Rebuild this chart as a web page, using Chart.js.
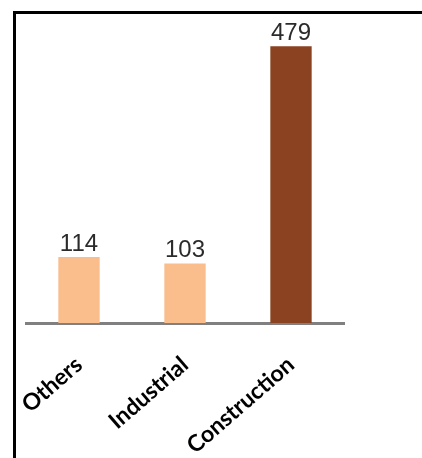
<!DOCTYPE html>
<html>
<head>
<meta charset="utf-8">
<script src="https://cdn.jsdelivr.net/npm/chart.js@4.4.0/dist/chart.umd.min.js"></script>
<style>
    html, body { margin: 0; padding: 0; background: #fff; }
    #wrap { position: relative; width: 422px; height: 458px; overflow: hidden; }
    #frame {
        position: absolute; left: 13px; top: 11px; width: 430px; height: 470px;
        border-left: 3px solid #000; border-top: 3px solid #000; pointer-events: none;
    }
    canvas { position: absolute; left: 0; top: 0; }
</style>
</head>
<body>
<div id="wrap">
    <canvas id="grafico" width="422" height="458"></canvas>
    <div id="frame"></div>
</div>
<script>
// Dados do gráfico
const categorias = ['Others', 'Industrial', 'Construction'];
const valores = [114, 103, 479];
const cores = ['#F9BE8C', '#F9BE8C', '#8B4220'];

// Plugin simples para escrever o valor em cima de cada barra
const rotulosValores = {
    id: 'rotulosValores',
    afterDatasetsDraw(chart) {
        const ctx = chart.ctx;
        const meta = chart.getDatasetMeta(0);
        ctx.save();
        ctx.font = '24px "Liberation Sans", Arial, sans-serif';
        ctx.fillStyle = '#2b2b2b';
        ctx.textAlign = 'center';
        ctx.textBaseline = 'alphabetic';
        meta.data.forEach((barra, i) => {
            ctx.fillText(String(valores[i]), barra.x, barra.y - 6);
        });
        ctx.restore();
    }
};

new Chart(document.getElementById('grafico'), {
    type: 'bar',
    data: {
        labels: categorias,
        datasets: [{
            data: valores,
            backgroundColor: cores,
            borderWidth: 0,
            barPercentage: 0.39,
            categoryPercentage: 1
        }]
    },
    options: {
        responsive: false,
        animation: false,
        devicePixelRatio: 1,
        layout: { padding: { left: 26, right: 78, top: 34, bottom: 0 } },
        plugins: { legend: { display: false }, tooltip: { enabled: false } },
        scales: {
            x: {
                grid: { display: false, drawTicks: false },
                border: { color: '#808080', width: 3 },
                // altura fixa do eixo e sem recuo extra dos rótulos
                afterFit(scale) {
                    scale.height = 135;
                    scale.paddingLeft = 0;
                    scale.paddingRight = 0;
                },
                ticks: {
                    minRotation: 41,
                    maxRotation: 41,
                    padding: 28,
                    color: '#000',
                    font: { family: 'Lato, "Open Sans", sans-serif', size: 23, weight: 'bold' }
                }
            },
            y: {
                display: false,
                min: 0,
                max: 500
            }
        }
    },
    plugins: [rotulosValores]
});
</script>
</body>
</html>
